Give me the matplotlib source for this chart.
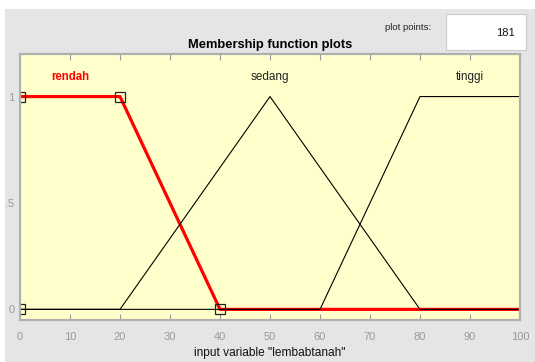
import numpy as np
import matplotlib
matplotlib.use("Agg")
import matplotlib.pyplot as plt
from matplotlib.patches import Rectangle

plt.rcParams['font.family'] = ['Liberation Sans', 'DejaVu Sans']

# Membership functions of the input variable "lembabtanah"
mf_names = ["rendah", "sedang", "tinggi"]
mf_types = ["trapmf", "trimf", "trapmf"]
mf_params = [[0, 0, 20, 40], [20, 50, 80], [60, 80, 100, 100]]
label_x = [10, 50, 90]
x_range = [0, 100]
n_points = 181
x_ticks = [0, 10, 20, 30, 40, 50, 60, 70, 80, 90, 100]
y_ticks = [0, 0.5, 1]
y_tick_labels = ["0", ".5", "1"]
selected = "rendah"


def trapmf(x, p):
    a, b, c, d = p
    up = (x - a) / (b - a) if b > a else np.ones_like(x)
    down = (d - x) / (d - c) if d > c else np.ones_like(x)
    y = np.minimum(np.minimum(up, 1.0), down)
    y = np.where((x < a) | (x > d), 0.0, y)
    return np.clip(y, 0, 1)


def trimf(x, p):
    a, b, c = p
    return trapmf(x, [a, b, b, c])


x = np.linspace(x_range[0], x_range[1], n_points)

fig = plt.figure(figsize=(5.35, 3.62), dpi=100)
fig.patch.set_facecolor("white")
# gray panel
fig.add_artist(Rectangle((5 / 535, 0), 1, 1 - 9 / 362, transform=fig.transFigure,
                         facecolor="#e5e5e5", edgecolor="none", zorder=-10))

ax = fig.add_axes([20 / 535, 1 - 320 / 362, 500 / 535, 266 / 362])
ax.set_facecolor("#ffffcc")
ax.set_xlim(x_range)
ax.set_ylim(-0.05, 1.2)

# draw selected function first (thick red), others on top in black
order = sorted(range(len(mf_names)), key=lambda i: mf_names[i] != selected)
for i in order:
    f = trapmf if mf_types[i] == "trapmf" else trimf
    y = f(x, mf_params[i])
    if mf_names[i] == selected:
        ax.plot(x, y, color="red", lw=2.3, zorder=2, solid_capstyle="butt")
        p = mf_params[i]
        vx = list(p)
        vy = [0, 1, 1, 0]
        ax.plot(vx, vy, ls="none", marker="s", ms=6.5, mfc="none", mec="#222222",
                mew=0.9, zorder=5, clip_on=True)
        ax.text(label_x[i], 1.09, mf_names[i], color="red", fontsize=8.3,
                fontweight="bold", ha="center", va="center")
    else:
        ax.plot(x, y, color="black", lw=0.8, zorder=3)
        ax.text(label_x[i], 1.09, mf_names[i], color="#222222", fontsize=8.5,
                ha="center", va="center")

ax.set_xticks(x_ticks)
ax.set_yticks(y_ticks)
ax.set_yticklabels(y_tick_labels)
ax.tick_params(axis="both", direction="in", colors="#9a9a9a", labelsize=8,
               length=4, width=0.8, top=True, labelcolor="#9a9a9a")
ax.tick_params(axis="y", length=0, pad=4)
ax.tick_params(axis="x", pad=9)
for s in ax.spines.values():
    s.set_color("#b0b0b0")
    s.set_linewidth(1.6)
    s.set_zorder(6)

ax.set_xlabel('input variable "lembabtanah"', fontsize=8.6, color="#111111", labelpad=3)
ax.set_title("Membership function plots", fontsize=9.3, fontweight="bold", pad=4)

# plot points box
fig.add_artist(Rectangle((446 / 535, 1 - 50 / 362), 80 / 535, 36 / 362,
                         transform=fig.transFigure, facecolor="white",
                         edgecolor="#c8c8c8", lw=0.8))
fig.text(385 / 535, 1 - 28 / 362, "plot points:", fontsize=6.8, color="#222222",
         ha="left", va="center")
fig.text(515 / 535, 1 - 33 / 362, str(n_points), fontsize=8, color="#111111",
         ha="right", va="center")

fig.savefig("out.png", dpi=100)
